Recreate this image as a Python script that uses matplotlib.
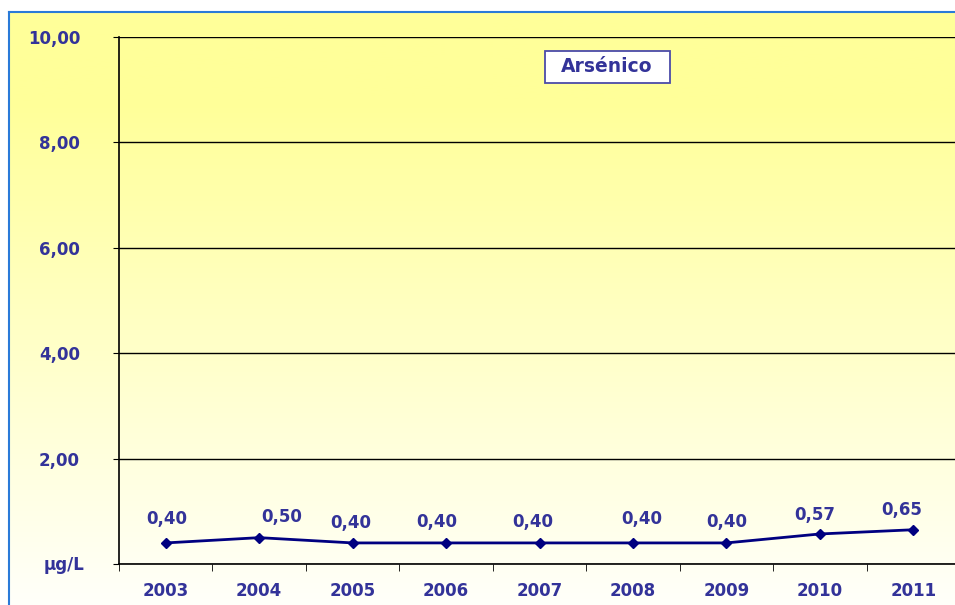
import numpy as np
import matplotlib
matplotlib.use('Agg')
import matplotlib.pyplot as plt
from matplotlib.patches import Rectangle
from matplotlib.lines import Line2D

anos = ['2003', '2004', '2005', '2006', '2007', '2008', '2009', '2010', '2011']
arsenico = [0.40, 0.50, 0.40, 0.40, 0.40, 0.40, 0.40, 0.57, 0.65]
rotulos = ['0,40', '0,50', '0,40', '0,40', '0,40', '0,40', '0,40', '0,57', '0,65']
yticks = [0, 2, 4, 6, 8, 10]
ytick_labels = ['', '2,00', '4,00', '6,00', '8,00', '10,00']

texto = '#333399'
linha = '#000080'

fig = plt.figure(figsize=(9.55, 6.05), dpi=100)
fig.patch.set_facecolor('white')

# fundo em degradê (amarelo em cima, quase branco embaixo)
bg = fig.add_axes([9/955, 0, 1 - 9/955, 592/605], zorder=0)
t = np.linspace(0, 1, 300)
r = np.ones_like(t)
g = np.ones_like(t)
b = np.clip(153/255 + (250/255 - 153/255) * np.clip((t - 0.15) / 0.85, 0, 1), 0, 1)
grad = np.stack([r, g, b], axis=1)[:, None, :]
bg.imshow(grad, aspect='auto', extent=[0, 1, 0, 1], origin='upper')
bg.set_axis_off()

# borda azul
fig.add_artist(Line2D([8.5/955, 8.5/955], [0, 593/605], color='#2a7ad8', lw=1.5))
fig.add_artist(Line2D([8.5/955, 1], [593/605, 593/605], color='#2a7ad8', lw=1.5))

ax = fig.add_axes([119/955, 41/605, 841/955, 527/605], zorder=1)
ax.patch.set_alpha(0)
x = np.arange(len(anos))
ax.plot(x, arsenico, color=linha, lw=2, marker='D', markersize=5.5)

# deslocamento dos rótulos (pontos)
offsets = [(0.7, 17.3), (16.5, 15.1), (-1.4, 14.4), (-6.5, 15.1), (-5, 15.1),
           (6.5, 17.3), (0, 15.1), (-3.6, 13.7), (-8, 14.4)]
for xi, v, s, (dx, dy) in zip(x, arsenico, rotulos, offsets):
    ax.annotate(s, (xi, v), xytext=(dx, dy), textcoords='offset points',
                ha='center', va='center', color=texto, fontsize=12, fontweight='bold')

ax.set_xlim(-0.5, len(anos) - 0.5)
ax.set_ylim(0, 10)
ax.set_yticks(yticks)
ax.set_yticklabels(ytick_labels)
ax.set_xticks(x)
ax.set_xticklabels(anos)
ax.set_xticks(np.arange(-0.5, len(anos), 1), minor=True)
ax.tick_params(axis='x', which='major', length=0, pad=13, labelsize=12, labelcolor=texto)
ax.tick_params(axis='x', which='minor', length=5, direction='out', color='black')
ax.tick_params(axis='y', length=4, direction='out', pad=24, labelsize=12, labelcolor=texto)
for lab in ax.get_xticklabels() + ax.get_yticklabels():
    lab.set_fontweight('bold')
ax.grid(axis='y', color='black', lw=1)
ax.set_axisbelow(True)
for side in ['top', 'right']:
    ax.spines[side].set_visible(False)
ax.spines['left'].set_linewidth(1.2)
ax.spines['bottom'].set_linewidth(1.2)

fig.text(64/955, 1 - 565/605, 'µg/L', ha='center', va='center', color=texto,
         fontsize=12, fontweight='bold')

# caixa do título
fig.add_artist(Rectangle((545/955, 1 - 83/605), 125/955, 32/605, transform=fig.transFigure,
                         facecolor='white', edgecolor='#4b4ba8', lw=1.3, zorder=3))
fig.text(607/955, 1 - 66/605, 'Arsénico', ha='center', va='center', color=texto,
         fontsize=13.5, fontweight='bold', zorder=4)

fig.savefig('out.png', dpi=100)
